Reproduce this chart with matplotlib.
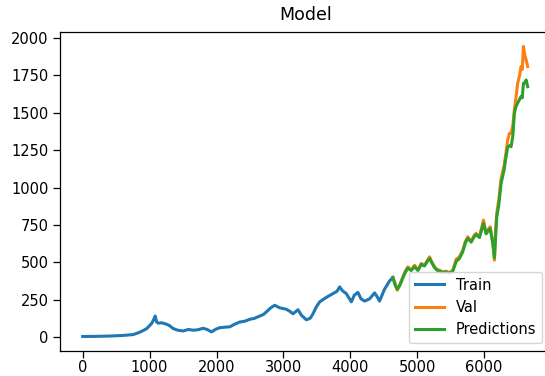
import matplotlib
matplotlib.use("Agg")
from matplotlib import pyplot as plt

# day index / closing price
train_x = [0, 200, 400, 600, 755, 855, 955, 1030, 1060, 1084, 1105, 1129, 1180, 1254,
           1300, 1353, 1420, 1502, 1580, 1651, 1720, 1800, 1860, 1925, 1990, 2049, 2120,
           2199, 2270, 2348, 2420, 2497, 2570, 2646, 2700, 2746, 2810, 2870, 2945, 3045,
           3100, 3143, 3218, 3269, 3343, 3400, 3442, 3490, 3542, 3642, 3740, 3800, 3840,
           3880, 3940, 4015, 4060, 4113, 4160, 4213, 4288, 4363, 4400, 4437, 4512, 4587, 4636]
train_y = [3, 4, 6, 10, 16, 32, 55, 90, 115, 140, 100, 92, 95, 85,
           75, 56, 45, 40, 50, 45, 48, 58, 50, 34, 52, 62, 65,
           68, 85, 100, 105, 118, 125, 140, 150, 168, 195, 212, 195, 185,
           170, 155, 182, 145, 115, 125, 155, 200, 235, 265, 290, 305, 335,
           310, 290, 235, 280, 298, 255, 240, 255, 295, 270, 240, 320, 375, 398]

val_x = [4636, 4670, 4701, 4740, 4785, 4820, 4860, 4910, 4960, 5010, 5060, 5109, 5150,
         5184, 5220, 5258, 5300, 5333, 5380, 5433, 5480, 5532, 5582, 5631, 5680, 5720,
         5756, 5806, 5850, 5880, 5930, 5990, 6030, 6060, 6090, 6129, 6154, 6170, 6188,
         6218, 6254, 6269, 6300, 6318, 6352, 6378, 6403, 6430, 6452, 6475, 6501, 6530,
         6552, 6570, 6587, 6610, 6627, 6651]
val_y = [398, 360, 313, 350, 402, 440, 469, 447, 480, 447, 492, 480, 510,
         536, 500, 469, 450, 447, 435, 440, 430, 447, 520, 536, 580, 640,
         670, 637, 680, 693, 670, 782, 693, 720, 737, 626, 514, 700, 827,
         916, 1060, 1090, 1150, 1206, 1318, 1363, 1363, 1420, 1520, 1600, 1698, 1750,
         1810, 1790, 1944, 1880, 1855, 1810]
pred_y = [398, 345, 320, 345, 395, 430, 460, 445, 470, 445, 485, 475, 505,
          525, 495, 465, 445, 440, 432, 435, 428, 440, 505, 525, 570, 630,
          660, 635, 670, 685, 665, 760, 690, 710, 725, 630, 530, 660, 800,
          880, 1030, 1060, 1120, 1180, 1270, 1280, 1273, 1350, 1497, 1540, 1565, 1590,
          1610, 1600, 1698, 1700, 1720, 1675]

fig = plt.figure(figsize=(5.45, 3.76), dpi=100)
ax = fig.add_axes([0.111, 0.0665, 0.898, 0.8485])

#Train, actual values and model predictions
ax.plot(train_x, train_y, color="#1f77b4", lw=2.2, label="Train")
ax.plot(val_x, val_y, color="#ff7f0e", lw=2.2, label="Val")
ax.plot(val_x, pred_y, color="#2ca02c", lw=2.2, label="Predictions")

ax.set_xlim(-332, 6983)
ax.set_ylim(-94, 2041)
ax.set_title("Model", fontsize=12.5, pad=8.5)
ax.set_yticks([0, 250, 500, 750, 1000, 1250, 1500, 1750, 2000])
ax.tick_params(labelsize=10.5, length=5, width=0.9)
ax.tick_params(axis="x", pad=1.8)
for s in ax.spines.values():
    s.set_linewidth(0.9)
ax.spines["right"].set_visible(False)
ax.legend(loc="lower right", fontsize=10.5, bbox_to_anchor=(542 / 545, 33 / 376),
          bbox_transform=fig.transFigure, borderaxespad=0)

fig.savefig("out.png", dpi=100)
